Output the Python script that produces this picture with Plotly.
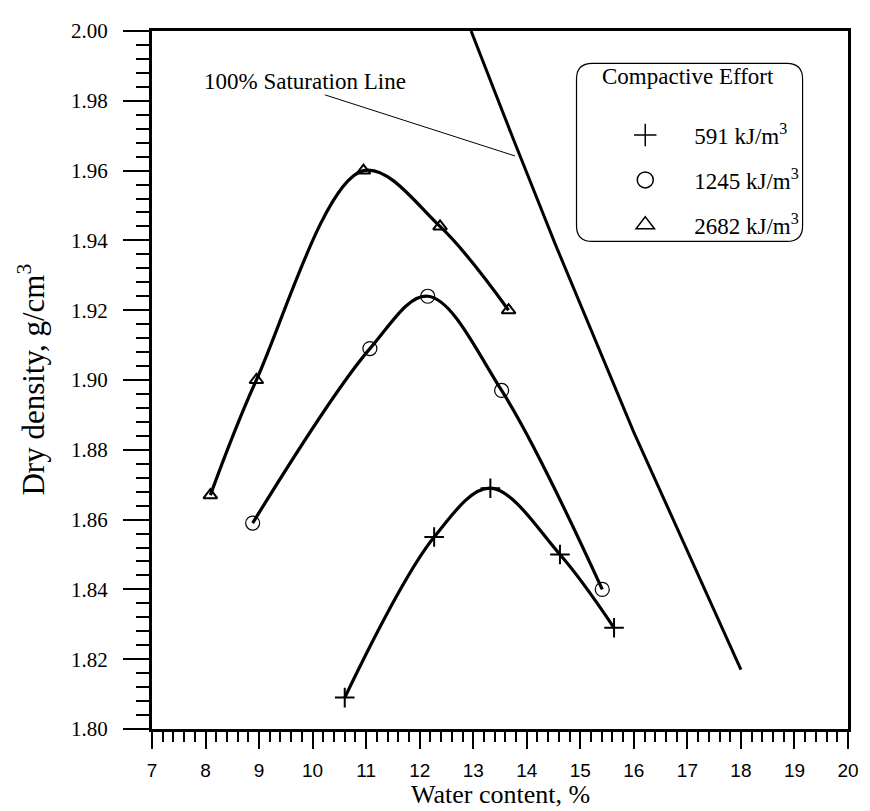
import plotly.graph_objects as go

# ---- data ----
effort_labels = ["591 kJ/m<sup>3</sup>", "1245 kJ/m<sup>3</sup>", "2682 kJ/m<sup>3</sup>"]

water_591 = [10.60, 12.27, 13.32, 14.62, 15.63]
dens_591 = [1.809, 1.855, 1.869, 1.850, 1.829]

water_1245 = [8.88, 11.07, 12.15, 13.53, 15.41]
dens_1245 = [1.859, 1.909, 1.924, 1.897, 1.840]

water_2682 = [8.09, 8.95, 10.95, 12.38, 13.66]
dens_2682 = [1.867, 1.900, 1.960, 1.944, 1.920]

sat_water = [12.96, 13.75, 14.53, 16.00, 18.00]
sat_dens = [2.000, 1.969, 1.939, 1.885, 1.817]

x_ticks = list(range(7, 21))
y_ticks = [1.80, 1.82, 1.84, 1.86, 1.88, 1.90, 1.92, 1.94, 1.96, 1.98, 2.00]

series = [
    (water_591, dens_591, "cross-thin-open", 14, 2.0),
    (water_1245, dens_1245, "circle-open", 14, 1.2),
    (water_2682, dens_2682, "triangle-up-open", 12, 2.0),
]

SERIF = "Liberation Serif, Times New Roman, serif"
SANS = "Liberation Sans, Arial, sans-serif"

# the page body has an 8px default margin; the figure is sized to fill the rest
PAGE_OFF = 8
FIG_W, FIG_H = 870 - PAGE_OFF, 811 - PAGE_OFF
PLOT_L, PLOT_T, PLOT_W, PLOT_H = 152, 19, 705, 710   # plot box in window pixels


def px_x(p):  # window pixel -> paper x
    return (p - PLOT_L) / PLOT_W


def px_y(p):  # window pixel -> paper y
    return (PLOT_T + PLOT_H - p) / PLOT_H


fig = go.Figure()

# saturation line
fig.add_trace(go.Scatter(x=sat_water, y=sat_dens, mode="lines",
                         line=dict(color="black", width=3), showlegend=False,
                         hoverinfo="skip"))

for i, (xs, ys, sym, sz, lw) in enumerate(series):
    fig.add_trace(go.Scatter(x=xs, y=ys, mode="lines",
                             line=dict(color="black", width=3.2, shape="spline", smoothing=1.0),
                             showlegend=False, hoverinfo="skip"))
    fig.add_trace(go.Scatter(x=xs, y=ys, mode="markers",
                             marker=dict(symbol=sym, size=sz, color="black",
                                         line=dict(color="black", width=lw)),
                             showlegend=False))
    # legend proxy (no data points)
    fig.add_trace(go.Scatter(x=[None], y=[None], mode="markers", name=effort_labels[i],
                             legendgroup=f"g{i}",
                             marker=dict(symbol=sym, size=20, color="black",
                                         line=dict(color="black", width=1.5))))

# rounded legend box (in paper coords)
L, R, B, T = px_x(582), px_x(811), px_y(233), px_y(52)
rx, ry = 16 / PLOT_W, 16 / PLOT_H
path = (f"M {L+rx},{B} L {R-rx},{B} Q {R},{B} {R},{B+ry} L {R},{T-ry} Q {R},{T} {R-rx},{T} "
        f"L {L+rx},{T} Q {L},{T} {L},{T-ry} L {L},{B+ry} Q {L},{B} {L+rx},{B} Z")
fig.add_shape(type="path", path=path, xref="paper", yref="paper",
              line=dict(color="black", width=1.2), layer="above")

fig.add_annotation(x=px_x(695), y=px_y(65), xref="paper", yref="paper",
                   text="Compactive Effort", showarrow=False,
                   font=dict(family=SERIF, size=23, color="black"),
                   xanchor="center", yanchor="middle")

# saturation label and leader
fig.add_annotation(x=9.86, y=1.9855, text="100% Saturation Line", showarrow=False,
                   font=dict(family=SERIF, size=23, color="black"),
                   xanchor="center", yanchor="middle")
fig.add_shape(type="line", x0=10.23, y0=1.9817, x1=13.78, y1=1.9642,
              line=dict(color="black", width=1))

# axis titles
fig.add_annotation(x=0.5, y=px_y(796), xref="paper", yref="paper",
                   text="Water content, %", showarrow=False,
                   font=dict(family=SERIF, size=26, color="black"),
                   xanchor="center", yanchor="middle")
fig.add_annotation(x=px_x(29), y=0.5, xref="paper", yref="paper",
                   text="Dry density, g/cm<sup>3</sup>", showarrow=False, textangle=-90,
                   font=dict(family=SERIF, size=31, color="black"),
                   xanchor="center", yanchor="middle")

fig.update_layout(
    width=FIG_W, height=FIG_H,
    margin=dict(l=PLOT_L - PAGE_OFF, t=PLOT_T - PAGE_OFF,
                r=FIG_W - (PLOT_L - PAGE_OFF) - PLOT_W,
                b=FIG_H - (PLOT_T - PAGE_OFF) - PLOT_H),
    plot_bgcolor="white", paper_bgcolor="white",
    showlegend=True,
    legend=dict(x=px_x(602), y=px_y(103), xanchor="left", yanchor="top",
                bgcolor="rgba(0,0,0,0)", borderwidth=0,
                font=dict(family=SERIF, size=23, color="black"),
                itemwidth=88, traceorder="grouped", tracegroupgap=12,
                itemsizing="trace"),
    font=dict(family=SERIF, color="black"),
)

fig.update_xaxes(
    range=[7, 20], tickvals=x_ticks, ticktext=[str(v) for v in x_ticks],
    showgrid=False, zeroline=False,
    showline=True, linecolor="black", linewidth=3, mirror=True,
    ticks="outside", ticklen=17, tickwidth=2, tickcolor="black",
    minor=dict(dtick=0.2, ticks="outside", ticklen=10, tickwidth=2, tickcolor="black"),
    tickfont=dict(family=SANS, size=19, color="black"),
    ticklabelstandoff=5,
)
fig.update_yaxes(
    range=[1.80, 2.00], tickvals=y_ticks, ticktext=[f"{v:.2f}" for v in y_ticks],
    showgrid=False, zeroline=False,
    showline=True, linecolor="black", linewidth=3, mirror=True,
    ticks="outside", ticklen=26, tickwidth=2, tickcolor="black",
    minor=dict(dtick=0.004, ticks="outside", ticklen=13, tickwidth=2, tickcolor="black"),
    tickfont=dict(family=SERIF, size=21, color="black"),
    ticklabelstandoff=11,
)

fig.write_html("out.html")
